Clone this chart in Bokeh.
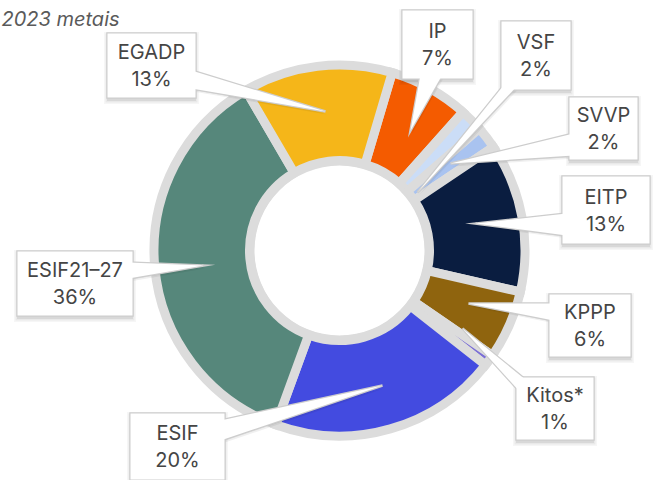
import math
from bokeh.plotting import figure
from bokeh.models import Range1d, ColumnDataSource
from bokeh.core.properties import value
from bokeh.embed import file_html
from bokeh.resources import INLINE

# ---------------- data ----------------
title = "2023 metais"
categories = ["IP", "VSF", "SVVP", "EITP", "KPPP", "Kitos*", "ESIF", "ESIF21–27", "EGADP"]
shares = [7, 2, 2, 13, 6, 1, 20, 36, 13]
colors = ["#F45B00", "#CBDDF7", "#A9C3F0", "#0A1D40", "#8F640E", "#7B6FD6",
          "#434BE0", "#56877B", "#F5B619"]

# ---------------- layout (screen px, y down) ----------------
W, H = 653, 480
CX, CY = 339, 250
START = 16.5          # first slice starts this many degrees clockwise from 12 o'clock
R_HOLE, R_RING = 85, 189
R_IN, R_OUT = 90, 185.5
GAP = 9
GREY = "#DCDCDC"

callouts = {
    "EGADP":     dict(box=(107, 33, 195, 97),  base=((191, 70), (191, 88)),  tip=(325, 111)),
    "IP":        dict(box=(402, 10, 472, 78),  base=((420, 74), (442, 74)),  tip=(410, 130)),
    "VSF":       dict(box=(501, 21, 570, 89),  base=((503, 85), (517, 85)),  tip=(417, 192)),
    "SVVP":      dict(box=(569, 97, 637, 159), base=((573, 133), (573, 155)), tip=(450, 163)),
    "EITP":      dict(box=(562, 176, 649, 243), base=((566, 213), (566, 235)), tip=(475, 223)),
    "KPPP":      dict(box=(549, 294, 630, 356), base=((553, 303), (553, 320)), tip=(468, 303)),
    "Kitos*":    dict(box=(516, 377, 593, 439), base=((526, 380), (520, 392)), tip=(462, 328)),
    "ESIF21–27": dict(box=(17, 251, 132, 315),  base=((128, 262), (128, 278)), tip=(203, 265)),
    "ESIF":      dict(box=(130, 413, 224, 479), base=((220, 420), (220, 440)), tip=(382, 385)),
}


def sy(y):
    return H - y


p = figure(width=W, height=H, x_range=Range1d(0, W), y_range=Range1d(0, H),
           output_backend="svg", toolbar_location=None, min_border=0,
           x_axis_location=None, y_axis_location=None)
p.xgrid.visible = False
p.ygrid.visible = False
p.outline_line_color = None
p.background_fill_color = "white"
p.border_fill_color = "white"

# grey ring background
p.annulus(x=[CX], y=[sy(CY)], inner_radius=R_HOLE, outer_radius=R_RING,
          fill_color=GREY, line_color=None)

# slices
total = float(sum(shares))
starts, ends = [], []
acc = 0.0
for s in shares:
    t1 = START + acc / total * 360.0
    acc += s
    t2 = START + acc / total * 360.0
    starts.append(math.radians(90.0 - t2))
    ends.append(math.radians(90.0 - t1))
src = ColumnDataSource(dict(start=starts, end=ends, color=colors, cat=categories))
p.annular_wedge(x=CX, y=sy(CY), inner_radius=R_IN, outer_radius=R_OUT,
                start_angle="start", end_angle="end", source=src,
                fill_color="color", line_color=GREY, line_width=GAP, line_join="miter")

# callout shapes
box_xs, box_ys, ptr_xs, ptr_ys = [], [], [], []
for cat in categories:
    c = callouts[cat]
    l, t, r, b = c["box"]
    box_xs.append([l, r, r, l])
    box_ys.append([sy(t), sy(t), sy(b), sy(b)])
    (b1x, b1y), (b2x, b2y) = c["base"]
    tx, ty = c["tip"]
    ptr_xs.append([b1x, tx, b2x])
    ptr_ys.append([sy(b1y), sy(ty), sy(b2y)])

# soft shadows
for grow, alpha in [(3.5, 0.035), (2.0, 0.05), (0.5, 0.07)]:
    sx = [[x[0] - grow, x[1] + grow, x[2] + grow, x[3] - grow] for x in box_xs]
    syy = [[y[0] - 2 + grow, y[1] - 2 + grow, y[2] - 3 - grow, y[3] - 3 - grow] for y in box_ys]
    p.patches(xs=sx, ys=syy, fill_color="black", fill_alpha=alpha, line_color=None)
for off, alpha in [(3, 0.06), (1.5, 0.08)]:
    p.patches(xs=[[v + off * 0.5 for v in x] for x in ptr_xs],
              ys=[[v - off for v in y] for y in ptr_ys],
              fill_color="black", fill_alpha=alpha, line_color=None)

# outlines then fills (so box + pointer read as one shape)
p.patches(xs=box_xs + ptr_xs, ys=box_ys + ptr_ys, fill_color="white",
          line_color="#CDCDCD", line_width=2.5, line_join="miter")
p.patches(xs=box_xs + ptr_xs, ys=box_ys + ptr_ys, fill_color="white", line_color=None)

# label texts
tx_, ty_, tt_ = [], [], []
for cat, s in zip(categories, shares):
    l, t, r, b = callouts[cat]["box"]
    cx = (l + r) / 2.0
    cy = (t + b) / 2.0
    tx_ += [cx, cx]
    ty_ += [sy(cy - 13.5), sy(cy + 13.5)]
    tt_ += [cat, f"{s}%"]
p.text(x=tx_, y=ty_, text=tt_, text_align="center", text_baseline="middle",
       text_font=value("Inter"), text_font_size=value("20px"), text_color="#454545")

# title
p.text(x=[1], y=[sy(18)], text=[title], text_align="left", text_baseline="alphabetic",
       text_font=value("Inter"), text_font_size=value("20px"), text_font_style="italic",
       text_color="#5A5A5A")

open("out.html", "w").write(file_html(p, INLINE))
